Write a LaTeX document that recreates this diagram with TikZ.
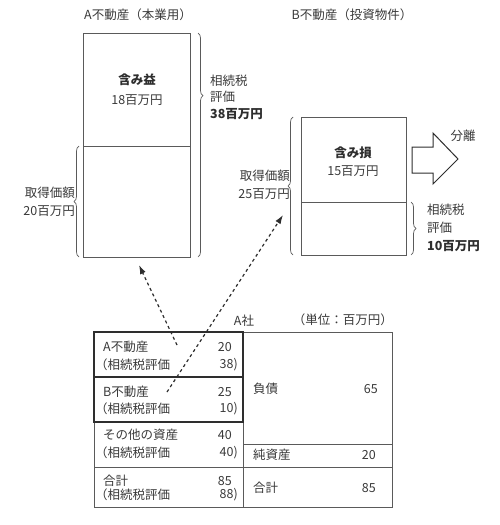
\documentclass[tikz,border=0pt]{standalone}
\usepackage{fontspec}
\setmainfont{Noto Sans CJK JP}
\usetikzlibrary{decorations.pathreplacing,arrows.meta}
\definecolor{txtc}{HTML}{3A3A3A}
\definecolor{linec}{HTML}{5A5A5A}
\definecolor{darkc}{HTML}{2E2E2E}
\begin{document}
\begin{tikzpicture}[x=1pt,y=-1pt,
  txt/.style={inner sep=0pt, font=\fontsize{12.5}{14}\selectfont, text=txtc},
  bl/.style={txt, font=\fontsize{12.5}{14}\selectfont\bfseries, text=darkc},
  thinline/.style={draw=linec, line width=0.7pt},
  thickline/.style={draw=darkc, line width=1.4pt},
  curly/.style={draw=linec, line width=0.7pt, decorate, decoration={brace, amplitude=5pt, #1}},
  curly/.default={},
  dasharrow/.style={draw=darkc, line width=1.2pt, dash pattern=on 3pt off 3pt, -{Latex[length=9pt,width=6pt]}}
]
\useasboundingbox (0,0) rectangle (500,525);
\fill[white] (0,0) rectangle (500,525);

% ---- titles
\node[txt] (titleA) at (138,15) {A不動産（本業用）};
\node[txt] (titleB) at (352,15) {B不動産（投資物件）};

% ---- A box
\draw[thinline] (83,33) rectangle (190,257);
\draw[thinline] (83,146) -- (190,146);
\node[bl] (aGain) at (137,80) {含み益};
\node[txt] (aGainV) at (137,100) {18百万円};
\coordinate (aBoxBottom) at (139,265);

% braces A
\draw[curly={aspect=0.28}] (198,33) -- (198,257);
\draw[curly] (79,257) -- (79,146);
\node[txt, anchor=west] (aInh1) at (210,81) {相続税};
\node[txt, anchor=west] (aInh2) at (210,97) {評価};
\node[bl, anchor=west] (aInh3) at (210,114) {38百万円};
\node[txt, anchor=east] (aAcq1) at (75,193) {取得価額};
\node[txt, anchor=east] (aAcq2) at (75,211) {20百万円};

% ---- B box
\draw[thinline] (301,117) rectangle (406,255);
\draw[thinline] (301,202) -- (406,202);
\node[bl] (bLoss) at (353,153) {含み損};
\node[txt] (bLossV) at (353,171) {15百万円};
\coordinate (bBoxLeft) at (283,215);

% braces B
\draw[curly] (293,255) -- (293,117);
\draw[curly] (411,202) -- (411,255);
\node[txt, anchor=east] (bAcq1) at (290,176) {取得価額};
\node[txt, anchor=east] (bAcq2) at (290,194) {25百万円};
\node[txt, anchor=west] (bInh1) at (427,210) {相続税};
\node[txt, anchor=west] (bInh2) at (427,228) {評価};
\node[bl, anchor=west] (bInh3) at (427,246) {10百万円};

% block arrow
\draw[thinline, line width=1pt, draw=darkc, line join=miter]
  (412,147) -- (433,147) -- (433,133) -- (458,159) -- (433,184) -- (433,173) -- (412,173) -- cycle;
\node[txt] (sep) at (463,136) {分離};

% ---- table
\node[txt] (co) at (244,321) {A社};
\node[txt, anchor=east] (unit) at (393,320) {（単位：百万円）};

\draw[thinline] (94,332) rectangle (392,507);
\draw[thinline] (243,332) -- (243,507);
\draw[thinline] (94,422) -- (243,422);
\draw[thinline] (94,467) -- (392,467);
\draw[thinline] (243,444) -- (392,444);
\draw[thickline] (94,332) rectangle (243,422);
\draw[thickline] (94,377) -- (243,377);

% left cells
\node[txt, anchor=west] (tA1) at (103,347) {A不動産};
\node[txt, anchor=west] (tA2) at (95,365) {（相続税評価};
\node[txt, anchor=east] (tA3) at (232,347) {20};
\node[txt, anchor=east] (tA4) at (238,365) {38)};

\node[txt, anchor=west] (tB1) at (103,392) {B不動産};
\node[txt, anchor=west] (tB2) at (95,409) {（相続税評価};
\node[txt, anchor=east] (tB3) at (232,392) {25};
\node[txt, anchor=east] (tB4) at (238,409) {10)};

\node[txt, anchor=west] (tO1) at (103,435) {その他の資産};
\node[txt, anchor=west] (tO2) at (95,453) {（相続税評価};
\node[txt, anchor=east] (tO3) at (232,435) {40};
\node[txt, anchor=east] (tO4) at (238,453) {40)};

\node[txt, anchor=west] (tT1) at (103,481) {合計};
\node[txt, anchor=west] (tT2) at (95,495) {（相続税評価};
\node[txt, anchor=east] (tT3) at (232,481) {85};
\node[txt, anchor=east] (tT4) at (238,495) {88)};

% right cells
\node[txt, anchor=west] (rD1) at (253,389) {負債};
\node[txt, anchor=east] (rD2) at (378,389) {65};
\node[txt, anchor=west] (rN1) at (253,455) {純資産};
\node[txt, anchor=east] (rN2) at (376,455) {20};
\node[txt, anchor=west] (rT1) at (253,488) {合計};
\node[txt, anchor=east] (rT2) at (376,488) {85};

% dashed arrows
\coordinate (aFrom) at (177,345);
\coordinate (bFrom) at (167,392);
\draw[dasharrow] (aFrom) -- (aBoxBottom);
\draw[dasharrow] (bFrom) -- (bBoxLeft);
\end{tikzpicture}
\end{document}
